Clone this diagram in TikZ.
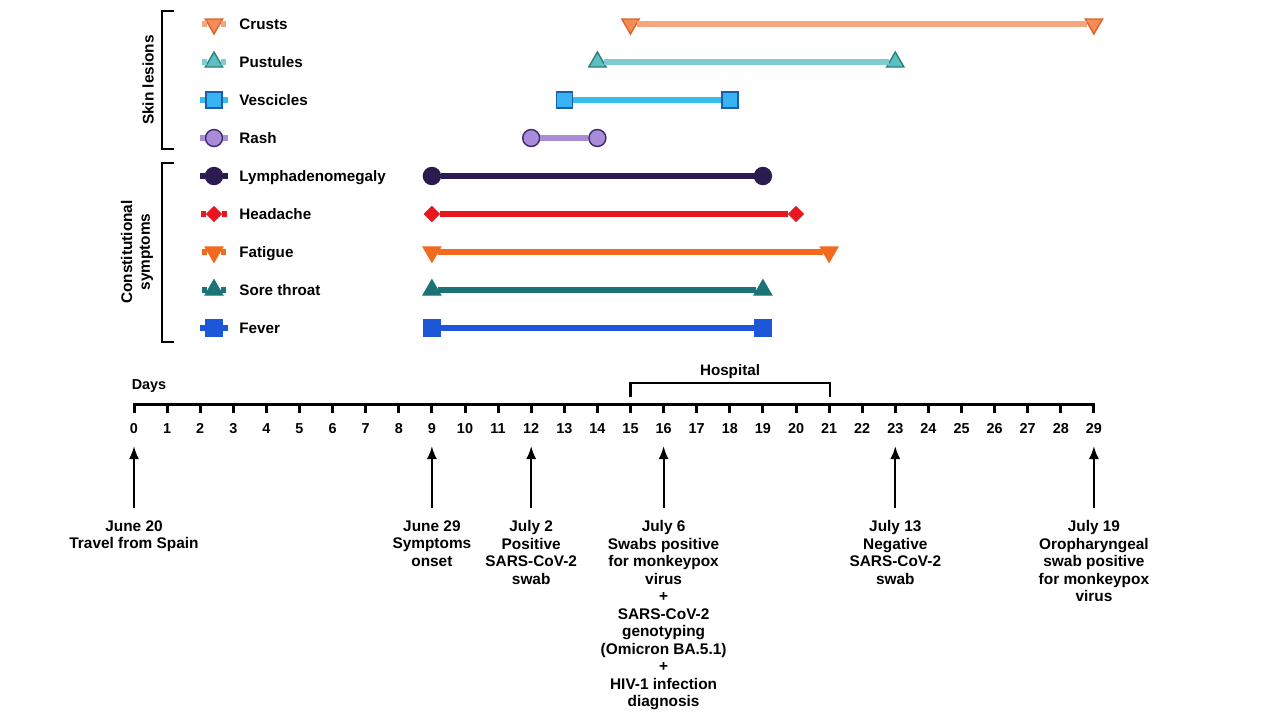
\documentclass[tikz,border=0pt]{standalone}
\usepackage{fontspec}
\setmainfont{Liberation Sans}
\usepackage{xcolor}
\usepackage{tikz}
\usetikzlibrary{shapes.geometric,arrows.meta,positioning,calc}

\definecolor{crustln}{HTML}{F4A77E}
\definecolor{crustfl}{HTML}{F68C55}
\definecolor{crusted}{HTML}{D8642C}
\definecolor{pustln}{HTML}{7ECBD0}
\definecolor{pustfl}{HTML}{5FBFC0}
\definecolor{pusted}{HTML}{2B7F80}
\definecolor{vesln}{HTML}{36BDEC}
\definecolor{vesfl}{HTML}{38B3F4}
\definecolor{vesed}{HTML}{1B5EA8}
\definecolor{rashln}{HTML}{A98DD6}
\definecolor{rashfl}{HTML}{A88CDA}
\definecolor{rashed}{HTML}{3A2868}
\definecolor{lymphc}{HTML}{2C1B4E}
\definecolor{headc}{HTML}{E8161E}
\definecolor{fatc}{HTML}{F26A1E}
\definecolor{sorec}{HTML}{1B7375}
\definecolor{feverc}{HTML}{1D56D8}

\begin{document}
\begin{tikzpicture}[x=0.5pt,y=-0.5pt,
    lgtext/.style={anchor=west,inner sep=0pt,text height=5.6pt,text depth=0pt,font=\fontsize{7.6}{9}\selectfont\bfseries},
    grp/.style={rotate=90,align=center,inner sep=0pt,font=\fontsize{7.7}{8.8}\selectfont\bfseries},
    daynum/.style={inner sep=0pt,text height=5.3pt,text depth=0pt,font=\fontsize{7.2}{8}\selectfont\bfseries},
    evtext/.style={anchor=north,align=center,inner sep=0pt,font=\fontsize{7.7}{8.75}\selectfont\bfseries},
    evarrow/.style={line width=1pt,-{Latex[length=6.5pt,width=5pt]},shorten <=6pt},
    bracket/.style={line width=1.25pt},
    axis/.style={line width=1.5pt,line cap=rect},
    tick/.style={line width=1.5pt},
    rgline/.style={line width=3pt},
    % markers
    mkbase/.style={inner sep=0pt,line width=0.7pt},
    tridown/.style={mkbase,regular polygon,regular polygon sides=3,shape border rotate=180,minimum size=10pt},
    triup/.style={mkbase,regular polygon,regular polygon sides=3,minimum size=10pt},
    sqr/.style={mkbase,rectangle,minimum size=8pt},
    circ/.style={mkbase,circle,minimum size=8.5pt},
    diam/.style={mkbase,diamond,minimum width=7.5pt,minimum height=7.5pt},
    crustmk/.style={tridown,fill=crustfl,draw=crusted},
    pustmk/.style={triup,fill=pustfl,draw=pusted},
    vesmk/.style={sqr,fill=vesfl,draw=vesed},
    rashmk/.style={circ,fill=rashfl,draw=rashed},
    lymphmk/.style={circ,fill=lymphc,draw=lymphc},
    headmk/.style={diam,fill=headc,draw=headc},
    fatmk/.style={tridown,fill=fatc,draw=fatc},
    soremk/.style={triup,fill=sorec,draw=sorec},
    fevermk/.style={sqr,fill=feverc,draw=feverc},
    crustrg/.style={rgline,draw=crustln},
    pustrg/.style={rgline,draw=pustln},
    vesrg/.style={rgline,draw=vesln},
    rashrg/.style={rgline,draw=rashln},
    lymphrg/.style={rgline,draw=lymphc},
    headrg/.style={rgline,draw=headc},
    fatrg/.style={rgline,draw=fatc},
    sorerg/.style={rgline,draw=sorec},
    feverrg/.style={rgline,draw=feverc}]
    \useasboundingbox (0,0) rectangle (1280,720);

    % Group brackets
    \draw[bracket] (174,11) -- (162,11) -- (162,149) -- (174,149);
    \draw[bracket] (174,163) -- (162,163) -- (162,342) -- (174,342);
    \node[grp] (skin) at (148,80) {Skin lesions};
    \node[grp] (const) at (137,252) {Constitutional\\symptoms};

    % Symptom rows: legend + duration
    \foreach \nm/\yy/\ds/\de/\mk/\rg in {Crusts/24/15/29/crustmk/crustrg,
        Pustules/62/14/23/pustmk/pustrg,
        Vescicles/100/13/18/vesmk/vesrg,
        Rash/138/12/14/rashmk/rashrg,
        Lymphadenomegaly/176/9/19/lymphmk/lymphrg,
        Headache/214/9/20/headmk/headrg,
        Fatigue/252/9/21/fatmk/fatrg,
        Sore throat/290/9/19/soremk/sorerg,
        Fever/328/9/19/fevermk/feverrg} {
      \node[\mk] (lg\yy) at (214,\yy) {};
      \draw[\rg] ([xshift=-2.5pt]lg\yy.west) -- (lg\yy.west);
      \draw[\rg] (lg\yy.east) -- ([xshift=2.5pt]lg\yy.east);
      \node[lgtext] (name\yy) at (239,\yy) {\nm};
      \node[\mk] (s\yy) at ({134+33.1*\ds},\yy) {};
      \node[\mk] (e\yy) at ({134+33.1*\de},\yy) {};
      \draw[\rg] (s\yy) -- (e\yy);
    }

    % Hospital stay
    \draw[bracket] (630.5,397) -- (630.5,383) -- (829.9,383) -- (829.9,397);
    \node[daynum,font=\fontsize{7.6}{9}\selectfont\bfseries] (hosp) at (730,370) {Hospital};

    % Day axis
    \node[daynum] (days) at (149,384) {Days};
    \draw[axis] (134,404) -- (1093.9,404);
    \foreach \d in {0,...,29} {
      \draw[tick] ({134+33.1*\d},404) -- ({134+33.1*\d},413);
      \node[daynum] (n\d) at ({134+33.1*\d},428) {\d};
    }

    % Events
    \foreach \d/\ev/\txt in {0/a/{June 20\\Travel from Spain},
        9/b/{June 29\\Symptoms\\onset},
        12/c/{July 2\\Positive\\SARS-CoV-2\\swab},
        16/d/{July 6\\Swabs positive\\for monkeypox\\virus\\+\\SARS-CoV-2\\genotyping\\(Omicron BA.5.1)\\+\\HIV-1 infection\\diagnosis},
        23/e/{July 13\\Negative\\SARS-CoV-2\\swab},
        29/f/{July 19\\Oropharyngeal\\swab positive\\for monkeypox\\virus}} {
      \node[evtext] (ev\ev) at ({134+33.1*\d},520) {\txt};
      \coordinate (tip\ev) at ({134+33.1*\d},446);
      \draw[evarrow] (ev\ev) -- (tip\ev);
    }
\end{tikzpicture}
\end{document}
